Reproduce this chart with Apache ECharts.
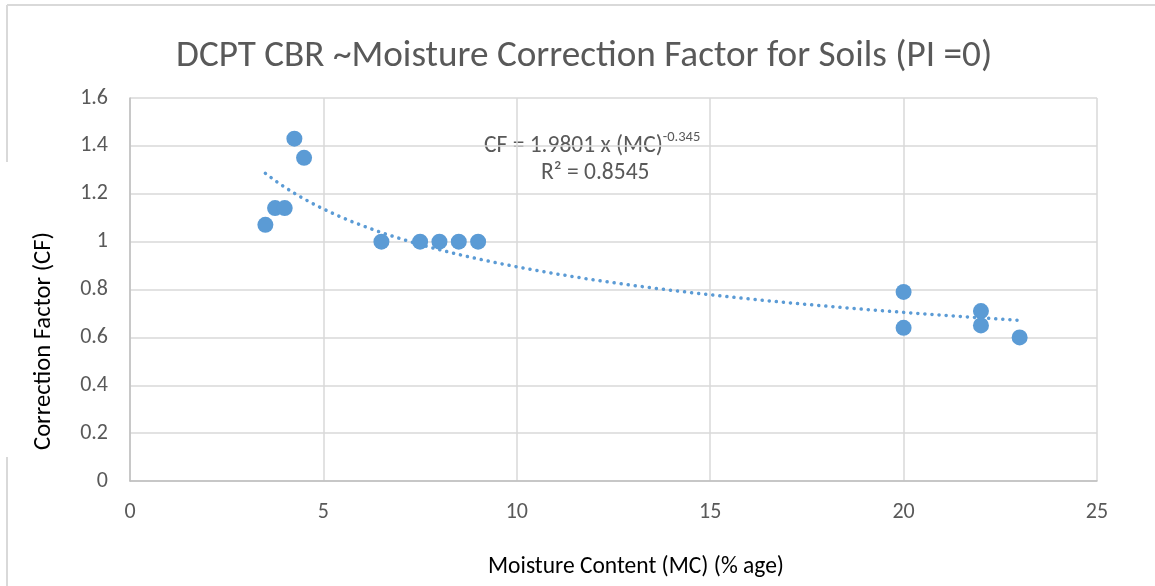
<!DOCTYPE html>
<html><head><meta charset="utf-8">
<script src="https://cdn.jsdelivr.net/npm/echarts@6/dist/echarts.min.js"></script>
<style>html,body{margin:0;padding:0;background:#fff}#c{width:1155px;height:586px}</style>
</head><body><div id="c"></div>
<script>
const moisture = [3.5, 3.75, 4.0, 4.25, 4.5, 6.5, 7.5, 8.0, 8.5, 9.0, 20, 20, 22, 22, 23];
const factor   = [1.07, 1.14, 1.14, 1.43, 1.35, 1.0, 1.0, 1.0, 1.0, 1.0, 0.79, 0.64, 0.71, 0.65, 0.60];
const trendCoef = 1.9801, trendExp = -0.345, trendFrom = 3.5, trendTo = 23;
const xTicks = [0, 5, 10, 15, 20, 25];
const yTicks = [0, 0.2, 0.4, 0.6, 0.8, 1, 1.2, 1.4, 1.6];

const trend = [];
for (let i = 0; i <= 80; i++) {
  const x = trendFrom + (trendTo - trendFrom) * i / 80;
  trend.push([x, trendCoef * Math.pow(x, trendExp)]);
}
const font = "Carlito, 'Liberation Sans Narrow', 'Open Sans', sans-serif";
const chart = echarts.init(document.getElementById('c'));
chart.setOption({
  animation: false,
  textStyle: { fontFamily: font },
  title: { text: 'DCPT CBR ~Moisture Correction Factor for Soils (PI =0)', left: 171, top: 33,
    textStyle: { fontFamily: font, fontSize: 37.2, fontWeight: 'normal', color: '#595959' } },
  grid: { left: 130, right: 58, top: 98, bottom: 105 },
  xAxis: { type: 'value', min: 0, max: 25, interval: 5,
    axisLine: { lineStyle: { color: '#bfbfbf', width: 1.5 } }, axisTick: { show: false },
    axisLabel: { fontFamily: font, fontSize: 22, color: '#595959', margin: 20,
      formatter: v => { const t = xTicks.find(k => Math.abs(k - v) < 1e-6); return t === undefined ? '' : String(t); } },
    splitLine: { lineStyle: { color: '#d9d9d9', width: 1.5 } } },
  yAxis: { type: 'value', min: 0, max: 1.6, interval: 0.2,
    axisLine: { show: true, lineStyle: { color: '#bfbfbf', width: 1.5 } }, axisTick: { show: false },
    axisLabel: { fontFamily: font, fontSize: 22, color: '#595959', margin: 22,
      formatter: v => { const t = yTicks.find(k => Math.abs(k - v) < 1e-6); return t === undefined ? '' : String(t); } },
    splitLine: { lineStyle: { color: '#d9d9d9', width: 1.5 } } },
  graphic: [
    { type: 'line', shape: { x1: 7, y1: 5, x2: 1160, y2: 5 }, style: { stroke: '#d9d9d9', lineWidth: 2 }, silent: true },
    { type: 'line', shape: { x1: 7, y1: 5, x2: 7, y2: 162 }, style: { stroke: '#d9d9d9', lineWidth: 2 }, silent: true },
    { type: 'line', shape: { x1: 7, y1: 457, x2: 7, y2: 590 }, style: { stroke: '#d9d9d9', lineWidth: 2 }, silent: true },
    { type: 'text', x: 44, y: 341, rotation: Math.PI / 2, style: { text: 'Correction Factor (CF)',
        font: '24.6px ' + font, fill: '#000', align: 'center', verticalAlign: 'middle' } },
    { type: 'text', x: 636, y: 567, style: { text: 'Moisture Content (MC) (% age)',
        font: '23.5px ' + font, fill: '#000', align: 'center', verticalAlign: 'middle' } },
    { type: 'text', left: 484, top: 130, style: {
        text: '{a|CF = 1.9801 x (MC)}{s|-0.345}', rich: {
          a: { fontFamily: font, fontSize: 23.5, fill: '#595959', lineHeight: 28, verticalAlign: 'bottom' },
          s: { fontFamily: font, fontSize: 14.5, fill: '#595959', lineHeight: 28, verticalAlign: 'top', padding: [0, 0, 14, 0] } } } },
    { type: 'text', left: 541, top: 161, style: { text: 'R² = 0.8545', font: '23.5px ' + font, fill: '#595959' } }
  ],
  series: [
    { type: 'line', data: trend, showSymbol: false, smooth: false, z: 2,
      lineStyle: { color: '#5b9bd5', width: 3.5, type: [0.1, 7], cap: 'round' } },
    { type: 'scatter', data: moisture.map((m, i) => [m, factor[i]]), symbolSize: 16, z: 3,
      itemStyle: { color: '#5b9bd5', opacity: 1 } }
  ]
});
</script></body></html>
